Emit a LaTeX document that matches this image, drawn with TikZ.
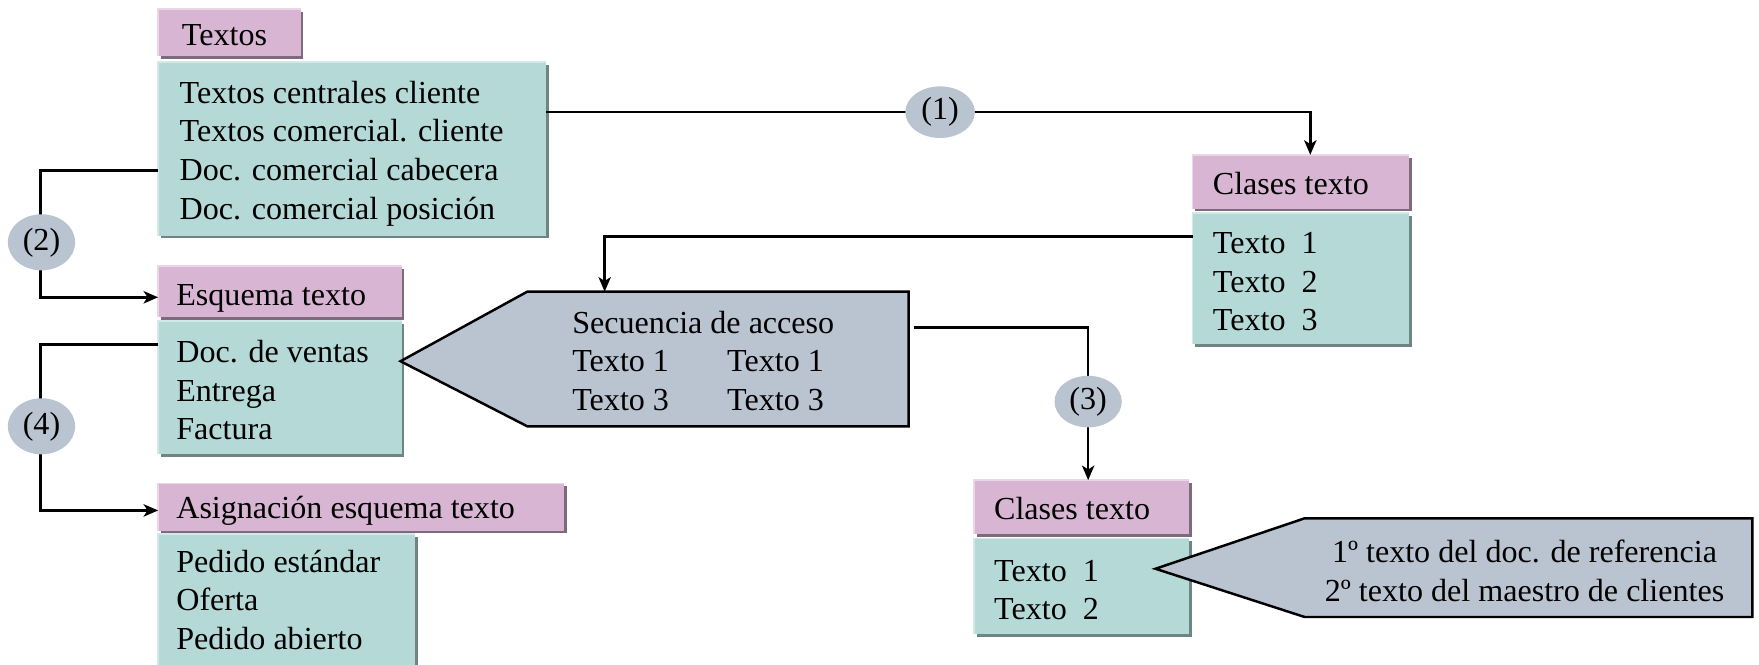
\documentclass[tikz,border=0pt]{standalone}
\usepackage{fontspec}
\setmainfont{Liberation Serif}
\usetikzlibrary{shadows,arrows.meta,calc,shapes.geometric}
\definecolor{pinkc}{HTML}{D8B5D3}
\definecolor{tealc}{HTML}{B4D9D7}
\definecolor{grayc}{HTML}{BAC4D1}
\definecolor{tealsh}{HTML}{6E8584}
\definecolor{pinksh}{HTML}{7D6A7C}
\definecolor{teallt}{HTML}{D2E9E7}
\definecolor{pinklt}{HTML}{EAD6E7}
\begin{document}
\begin{tikzpicture}[x=1pt,y=-1pt,
  hdr/.style={fill=pinkc, anchor=north west, inner sep=0pt, outer sep=0pt,
    general shadow={shadow xshift=2.5pt, shadow yshift=-2.5pt, fill=pinksh}},
  body/.style={fill=tealc, anchor=north west, inner sep=0pt, outer sep=0pt,
    general shadow={shadow xshift=2.5pt, shadow yshift=-2.5pt, fill=tealsh}},
  txt/.style={anchor=base west, inner sep=0pt, align=left,
    font=\fontsize{28.6}{34.5}\selectfont},
  ctxt/.style={anchor=base, inner sep=0pt, align=center,
    font=\fontsize{28.6}{35}\selectfont},
  circ/.style={ellipse, fill=grayc, minimum width=62pt, minimum height=46pt,
    inner sep=0pt, font=\fontsize{28.6}{34}\selectfont},
  conn/.style={draw=black, line width=2.2pt},
  arr/.style={conn, -{Stealth[length=13pt,width=11pt,inset=3.5pt]}},
  pent/.style={fill=grayc, draw=black, line width=2.2pt, line join=miter},
  ltpink/.style={draw=pinklt, line width=1.5pt},
  ltteal/.style={draw=teallt, line width=1.5pt}
]
\useasboundingbox (0,0) rectangle (1568,592);

% ---------- boxes ----------
\node[hdr, minimum width=127pt, minimum height=42pt] (Th) at (141,8) {};
\node[body, minimum width=346pt, minimum height=155pt] (A) at (141,55) {};
\node[hdr, minimum width=193pt, minimum height=48pt] (Ch1) at (1063,138) {};
\node[body, minimum width=193pt, minimum height=117pt] (B) at (1063,190) {};
\node[hdr, minimum width=217pt, minimum height=46pt] (Esq) at (141,237) {};
\node[body, minimum width=217pt, minimum height=119pt] (C) at (141,286) {};
\node[hdr, minimum width=362pt, minimum height=42pt] (Asg) at (141,431) {};
\node[body, minimum width=229pt, minimum height=140pt] (D) at (141,476) {};
\node[hdr, minimum width=192pt, minimum height=48pt] (Ch2) at (868,428) {};
\node[body, minimum width=192pt, minimum height=85pt] (E) at (868,480) {};

% light top/left edges
\foreach \n in {Th,Ch1,Esq,Asg,Ch2}{\draw[ltpink] (\n.south west) |- (\n.north east);}
\foreach \n in {A,B,C,D,E}{\draw[ltteal] (\n.south west) |- (\n.north east);}

% ---------- pentagons ----------
\coordinate (P1tip) at (357,322);
\coordinate (P1tr) at (810,260);
\coordinate (P1br) at (810,380);
\path[pent] (P1tip) -- (470,260) -- (P1tr) -- (P1br) -- (470,380) -- cycle;
\coordinate (P2tip) at (1030,507);
\path[pent] (P2tip) -- (1163,462) -- (1562,462) -- (1562,550) -- (1163,550) -- cycle;

% ---------- texts (base = last line) ----------
\node[txt] (tTh) at (162,41) {Textos};
\node[txt] (tA) at (160,195.5) {Textos centrales cliente\\Textos comercial. cliente\\Doc. comercial cabecera\\Doc. comercial posición};
\node[txt] (tCh1) at (1081,173) {Clases texto};
\node[txt] (tB) at (1081,295) {Texto~~1\\Texto~~2\\Texto~~3};
\node[txt] (tEsq) at (157,272) {Esquema texto};
\node[txt] (tC) at (157,392) {Doc. de ventas\\Entrega\\Factura};
\node[txt] (tAsg) at (157,462) {Asignación esquema texto};
\node[txt] (tD) at (157,579) {Pedido estándar\\Oferta\\Pedido abierto};
\node[txt] (tS1) at (510,366) {Secuencia de acceso\\Texto 1\\Texto 3};
\node[txt] (tS2) at (648,366) {Texto 1\\Texto 3};
\node[txt] (tCh2) at (886,463) {Clases texto};
\node[txt] (tE) at (886,552.5) {Texto~~1\\Texto~~2};
\node[ctxt] (tP2) at (1359,536) {1º texto del doc. de referencia\\2º texto del maestro de clientes};

% ---------- connectors ----------
\coordinate (k1) at (1168,100);
\draw[arr] (A.east |- k1) -| (k1 |- Ch1.north);
\coordinate (k2) at (36,152);
\coordinate (k2b) at (36,265);
\draw[arr] (A.west |- k2) -- (k2) -- (k2b) -- (Esq.west |- k2b);
\coordinate (k4) at (36,307);
\coordinate (k4b) at (36,455);
\draw[arr] (C.west |- k4) -- (k4) -- (k4b) -- (Asg.west |- k4b);
\coordinate (k5) at (539,211);
\draw[arr] (B.west |- k5) -| (k5 |- P1tr);
\coordinate (k3) at (970,292);
\draw[arr] ([xshift=5pt]P1tr |- k3) -| (k3 |- Ch2.north);

% ---------- circles ----------
\node[circ] (c1) at (838,100) {(1)};
\node[circ, minimum width=60pt, minimum height=50pt] (c2) at (37,216) {(2)};
\node[circ, minimum width=60pt, minimum height=46pt] (c3) at (970,358) {(3)};
\node[circ, minimum width=60pt, minimum height=50pt] (c4) at (37,380) {(4)};
\end{tikzpicture}
\end{document}
